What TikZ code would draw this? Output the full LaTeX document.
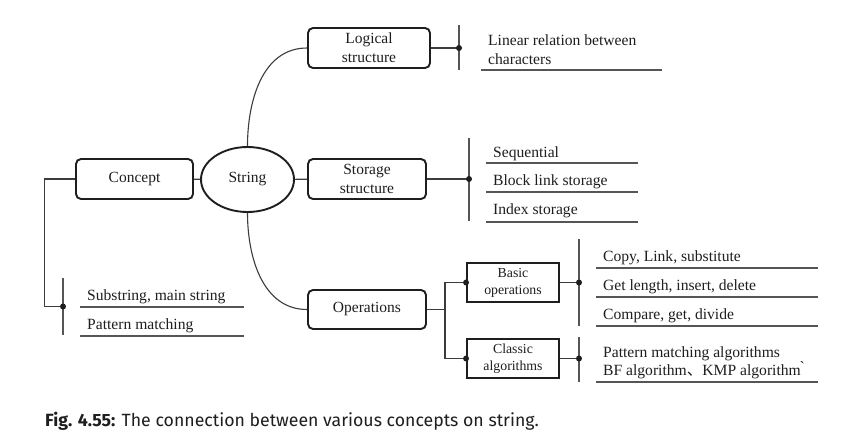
\documentclass[tikz,border=0pt]{standalone}
\usepackage{fontspec}
\setmainfont{Liberation Serif}
\newfontfamily\capfont{Fira Sans}
\newfontfamily\cjk{Noto Sans CJK SC}
\usetikzlibrary{shapes.geometric}
\definecolor{ink}{HTML}{1E1E1E}
\definecolor{wire}{HTML}{3C3C3C}
\definecolor{barc}{HTML}{555555}
\tikzset{
  rbox/.style={draw=ink, rounded corners=5pt, line width=1.9pt, inner sep=0pt, align=center,
    text=ink, font=\fontsize{15.5}{19}\selectfont},
  sbox/.style={draw=ink, line width=1.9pt, inner sep=0pt, align=center,
    text=ink, font=\fontsize{13.8}{17}\selectfont, minimum width=92pt, minimum height=39pt},
  conn/.style={draw=wire, line width=1.1pt},
  barline/.style={draw=barc, line width=1.5pt},
  uline/.style={draw=barc, line width=1.5pt},
  jdot/.style={circle, fill=ink, inner sep=0pt, minimum size=6pt},
  item/.style={anchor=base west, inner sep=0pt, text=ink, font=\fontsize{15.6}{19}\selectfont},
}
\begin{document}
\begin{tikzpicture}[x=1pt,y=-1pt]
\useasboundingbox[fill=white] (0,0) rectangle (852,437);

% main nodes
\node[rbox, minimum width=122pt, minimum height=40pt] (logic) at (369,48) {Logical\\structure};
\node[rbox, minimum width=117pt, minimum height=40pt] (concept) at (134.5,179) {Concept};
\node[draw=ink, ellipse, line width=1.9pt, minimum width=93pt, minimum height=65pt, inner sep=0pt,
  text=ink, font=\fontsize{15.5}{19}\selectfont] (string) at (247.5,179.5) {String};
\node[rbox, minimum width=118pt, minimum height=40pt] (storage) at (367,179) {Storage\\structure};
\node[rbox, minimum width=118pt, minimum height=39pt] (ops) at (367,309.5) {Operations};
\node[sbox] (basic) at (513,282.5) {Basic\\operations};
\node[sbox] (classic) at (513,358.5) {Classic\\algorithms};

% connectors from String
\draw[conn] (string.north) to[out=90,in=180] (logic.west);
\draw[conn] (string.south) to[out=-90,in=180] (ops.west);
\draw[conn] (concept) -- (string);
\draw[conn] (string) -- (storage);

% logical structure branch
\coordinate (ldot) at (459,48);
\draw[conn] (logic.east) -- (ldot);
\draw[barline] (459,25) -- (459,70);
\node[jdot] (ld) at (ldot) {};
\node[item] (lin1) at (488,45) {Linear relation between};
\node[item] (lin2) at (488,64) {characters};
\draw[uline] (481,70) -- (662,70);

% storage branch
\coordinate (sdot) at (469,179);
\draw[conn] (storage.east) -- (sdot);
\draw[barline] (469,138) -- (469,221);
\node[jdot] (sd) at (sdot) {};
\node[item] (seq) at (493,157) {Sequential};
\draw[uline] (486,163) -- (638,163);
\node[item] (blk) at (493,185) {Block link storage};
\draw[uline] (486,192) -- (638,192);
\node[item] (idx) at (493,214) {Index storage};
\draw[uline] (486,222) -- (638,222);

% concept branch
\coordinate (cdot) at (63,306.5);
\draw[conn] (concept.west) -- ++(-31,0) |- (cdot);
\draw[barline] (63,278) -- (63,335);
\node[jdot] (cd) at (cdot) {};
\node[item] (sub) at (87,300) {Substring, main string};
\draw[uline] (80,307) -- (244,307);
\node[item] (pat) at (87,329) {Pattern matching};
\draw[uline] (80,336) -- (244,336);

% operations branch
\coordinate (ojoin) at (445,309.5);
\draw[conn] (ops.east) -- (ojoin);
\draw[conn] (basic.west) -| (ojoin) |- (classic.west);
\node[jdot] (bd0) at (basic.west) {};
\node[jdot] (cd0) at (classic.west) {};

\coordinate (bdot) at (579,282.5);
\draw[conn] (basic.east) -- (bdot);
\draw[barline] (579,239) -- (579,326);
\node[jdot] (bd) at (bdot) {};
\node[item] (cp) at (603,261) {Copy, Link, substitute};
\draw[uline] (596,268) -- (818,268);
\node[item] (gl) at (603,290) {Get length, insert, delete};
\draw[uline] (596,297) -- (818,297);
\node[item] (cm) at (603,319) {Compare, get, divide};
\draw[uline] (596,326) -- (818,326);

\coordinate (kdot) at (579,358.5);
\draw[conn] (classic.east) -- (kdot);
\draw[barline] (579,337) -- (579,382);
\node[jdot] (kd) at (kdot) {};
\node[item] (pm) at (603,357) {Pattern matching algorithms};
\node[item] (bf) at (603,375) {BF algorithm{\cjk 、}KMP algorithm\`{}};
\draw[uline] (596,382) -- (818,382);

% caption
\node[anchor=base west, inner sep=0pt, text=ink, font=\capfont\fontsize{17.7}{20}\selectfont] (cap) at (45,426)
  {\textbf{Fig. 4.55:} The connection between various concepts on string.};
\end{tikzpicture}
\end{document}
